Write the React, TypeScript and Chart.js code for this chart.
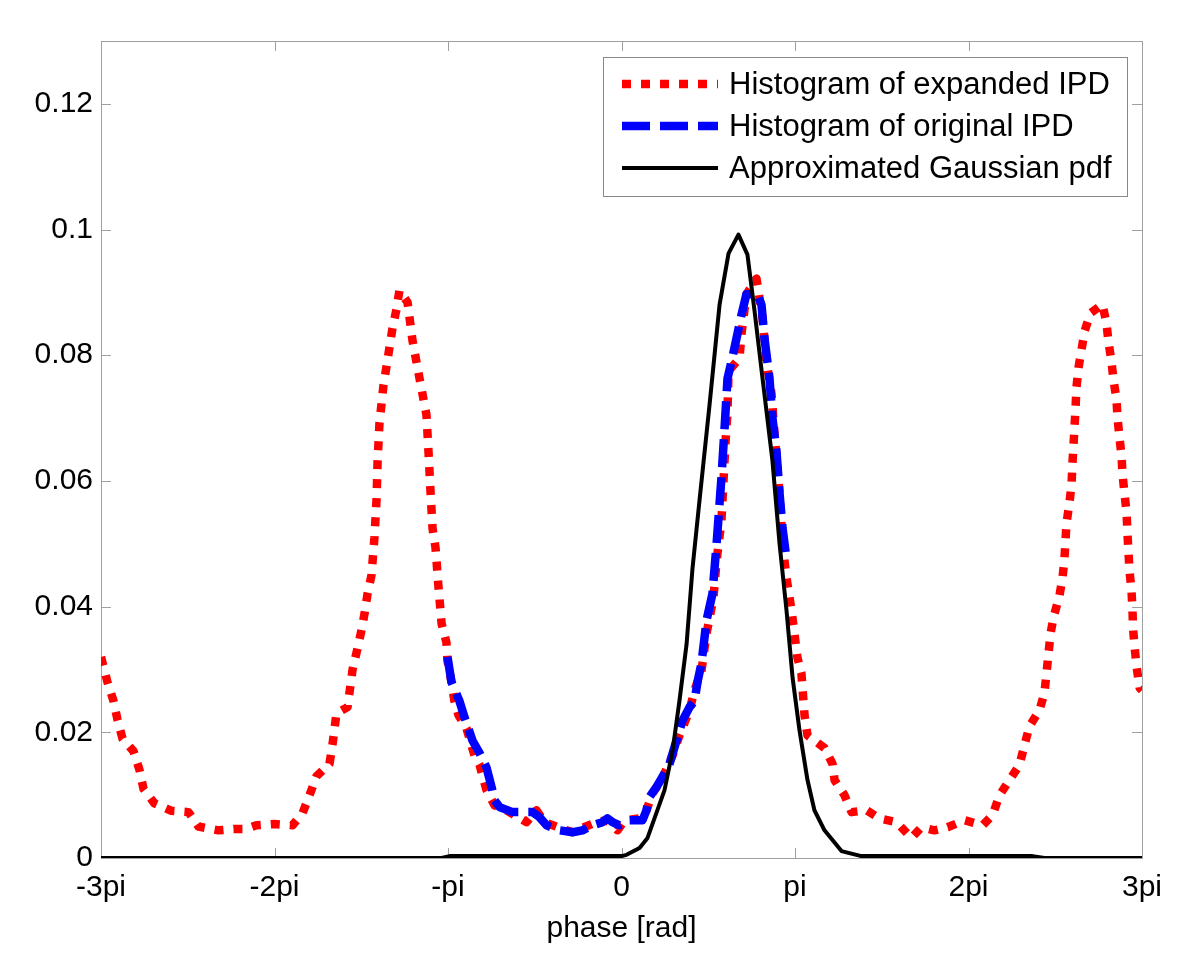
import React, { useEffect, useRef } from "react";
import { Chart, registerables } from "chart.js";

Chart.register(...registerables);

// x values are expressed in multiples of pi
const xTickValues = [-3, -2, -1, 0, 1, 2, 3];
const xTickLabels = ["-3pi", "-2pi", "-pi", "0", "pi", "2pi", "3pi"];
const yTickValues = [0, 0.02, 0.04, 0.06, 0.08, 0.1, 0.12];
const yTickLabels = ["0", "0.02", "0.04", "0.06", "0.08", "0.1", "0.12"];
const xAxisTitle = "phase [rad]";
const seriesNames = [
  "Histogram of expanded IPD",
  "Histogram of original IPD",
  "Approximated Gaussian pdf",
];

const expandedX = [
  -3.0, -2.963, -2.928, -2.905, -2.876, -2.813, -2.778, -2.755, -2.692, -2.594,
  -2.496, -2.438, -2.323, -2.236, -2.167, -2.104, -2.0, -1.896, -1.839, -1.798,
  -1.758, -1.683, -1.666, -1.643, -1.579, -1.55, -1.522, -1.499, -1.481, -1.464,
  -1.441, -1.424, -1.412, -1.406, -1.395, -1.372, -1.354, -1.32, -1.297, -1.28,
  -1.233, -1.205, -1.164, -1.124, -1.112, -1.101, -1.089, -1.072, -1.055, -1.037,
  -1.009, -1.003, -0.98, -0.963, -0.939, -0.893, -0.847, -0.818, -0.778, -0.732,
  -0.663, -0.548, -0.49, -0.444, -0.357, -0.282, -0.225, -0.144, -0.086, -0.023,
  0.017, 0.104, 0.144, 0.179, 0.236, 0.294, 0.334, 0.392, 0.421, 0.461,
  0.49, 0.53, 0.548, 0.576, 0.599, 0.611, 0.617, 0.68, 0.692, 0.72,
  0.778, 0.813, 0.836, 0.865, 0.882, 0.911, 0.928, 0.951, 0.98, 1.014,
  1.037, 1.055, 1.072, 1.17, 1.216, 1.228, 1.285, 1.326, 1.412, 1.487,
  1.585, 1.671, 1.729, 1.804, 1.879, 1.977, 2.081, 2.138, 2.179, 2.236,
  2.294, 2.323, 2.352, 2.409, 2.438, 2.45, 2.461, 2.473, 2.49, 2.524,
  2.542, 2.553, 2.559, 2.565, 2.582, 2.594, 2.599, 2.605, 2.611, 2.617,
  2.622, 2.634, 2.651, 2.669, 2.703, 2.772, 2.795, 2.807, 2.824, 2.836,
  2.853, 2.859, 2.87, 2.882, 2.888, 2.899, 2.911, 2.916, 2.922, 2.928,
  2.939, 2.945, 2.948, 2.957, 2.968, 2.986, 3.0,
];
const expandedY = [
  0.032, 0.028, 0.025, 0.022, 0.019, 0.017, 0.014, 0.011, 0.0087, 0.0075,
  0.0073, 0.005, 0.0044, 0.0046, 0.0046, 0.0052, 0.0054, 0.0052, 0.0071, 0.01,
  0.013, 0.015, 0.018, 0.023, 0.024, 0.03, 0.0333, 0.0362, 0.0389, 0.042,
  0.045, 0.051, 0.057, 0.063, 0.0692, 0.0752, 0.0783, 0.0843, 0.0873, 0.0903,
  0.0884, 0.0824, 0.0763, 0.0705, 0.0644, 0.0584, 0.0524, 0.0494, 0.0432, 0.0373,
  0.0343, 0.0314, 0.028, 0.025, 0.0227, 0.0206, 0.0163, 0.0148, 0.0108, 0.0084,
  0.0076, 0.0057, 0.0076, 0.0057, 0.0048, 0.0041, 0.0048, 0.0057, 0.006, 0.0044,
  0.006, 0.0063, 0.0076, 0.0103, 0.0127, 0.0163, 0.0195, 0.0235, 0.0267, 0.0298,
  0.0357, 0.0414, 0.0473, 0.0537, 0.0659, 0.0711, 0.0775, 0.0795, 0.0835, 0.0897,
  0.0922, 0.0859, 0.079, 0.0738, 0.0675, 0.058, 0.05, 0.0446, 0.0394, 0.0319,
  0.0294, 0.0227, 0.0195, 0.0175, 0.015, 0.0124, 0.01, 0.0073, 0.0076, 0.0063,
  0.0057, 0.0032, 0.0049, 0.0044, 0.0049, 0.006, 0.0052, 0.0068, 0.01, 0.0124,
  0.0148, 0.018, 0.021, 0.0235, 0.0263, 0.0295, 0.0325, 0.0357, 0.0383, 0.0417,
  0.0446, 0.0476, 0.0505, 0.0533, 0.0565, 0.0595, 0.0627, 0.0656, 0.0686, 0.0716,
  0.0748, 0.078, 0.0808, 0.0838, 0.0867, 0.0881, 0.0851, 0.0821, 0.079, 0.076,
  0.073, 0.07, 0.067, 0.064, 0.061, 0.058, 0.055, 0.0518, 0.0487, 0.0457,
  0.0427, 0.0397, 0.0367, 0.0337, 0.0306, 0.0271, 0.0267,
];

const originalX = [
  -1.003, -0.98, -0.934, -0.905, -0.859, -0.818, -0.778, -0.749, -0.732, -0.703,
  -0.628, -0.513, -0.473, -0.432, -0.357, -0.282, -0.225, -0.167, -0.11, -0.081,
  -0.052, -0.012, 0.046, 0.121, 0.144, 0.161, 0.202, 0.236, 0.277, 0.317,
  0.352, 0.392, 0.421, 0.438, 0.461, 0.49, 0.524, 0.548, 0.576, 0.594,
  0.611, 0.634, 0.663, 0.692, 0.72, 0.784, 0.807, 0.824, 0.853, 0.87,
  0.893, 0.911, 0.928, 0.951,
];
const originalY = [
  0.032, 0.028, 0.025, 0.0224, 0.0187, 0.0167, 0.0144, 0.0113, 0.0092, 0.0081,
  0.0073, 0.0073, 0.0065, 0.0052, 0.0044, 0.0041, 0.0044, 0.0052, 0.0057, 0.0063,
  0.0057, 0.0052, 0.006, 0.006, 0.0076, 0.0097, 0.0113, 0.0129, 0.015, 0.0187,
  0.0219, 0.024, 0.025, 0.028, 0.031, 0.0378, 0.042, 0.05, 0.0605, 0.0684,
  0.0763, 0.079, 0.0827, 0.0865, 0.0897, 0.0897, 0.088, 0.0827, 0.0763, 0.07,
  0.0648, 0.058, 0.0525, 0.0476,
];

const gaussX = [
  -3.0, -1.037, -0.991, 0.0, 0.029, 0.104, 0.15, 0.19, 0.248, 0.294,
  0.334, 0.375, 0.409, 0.45, 0.507, 0.565, 0.617, 0.674, 0.726, 0.767,
  0.813, 0.87, 0.911, 0.951, 0.986, 1.026, 1.072, 1.112, 1.17, 1.268,
  1.383, 2.369, 2.438, 3.0,
];
const gaussY = [
  0.0, 0.0, 0.0003, 0.0003, 0.0005, 0.0016, 0.0032, 0.0063, 0.0108, 0.017,
  0.025, 0.034, 0.046, 0.057, 0.072, 0.088, 0.0962, 0.0992, 0.096, 0.087,
  0.0763, 0.0632, 0.05, 0.0394, 0.0287, 0.0203, 0.0124, 0.0076, 0.0044, 0.0011,
  0.0003, 0.0003, 0.0, 0.0,
];

const FONT = "'Liberation Sans', Arial, Helvetica, sans-serif";

const seriesStyles = [
  { color: "#ff0000", width: 8.5, dash: [9, 10] },
  { color: "#0000ff", width: 8.5, dash: [28, 10] },
  { color: "#000000", width: 4, dash: [] as number[] },
];

const zip = (xs: number[], ys: number[]) => xs.map((x, i) => ({ x, y: ys[i] }));

const framePlugin = {
  id: "matlabFrame",
  beforeDatasetsDraw(chart: any) {
    const { ctx, chartArea: a, scales } = chart;
    ctx.save();
    ctx.strokeStyle = "#a0a0a0";
    ctx.lineWidth = 1;
    ctx.strokeRect(a.left + 0.5, a.top + 0.5, a.right - a.left, a.bottom - a.top);
    const tl = 10;
    ctx.beginPath();
    xTickValues.forEach((v) => {
      const px = Math.round(scales.x.getPixelForValue(v)) + 0.5;
      ctx.moveTo(px, a.bottom);
      ctx.lineTo(px, a.bottom - tl);
      ctx.moveTo(px, a.top);
      ctx.lineTo(px, a.top + tl);
    });
    yTickValues.forEach((v) => {
      const py = Math.round(scales.y.getPixelForValue(v)) + 0.5;
      ctx.moveTo(a.left, py);
      ctx.lineTo(a.left + tl, py);
      ctx.moveTo(a.right, py);
      ctx.lineTo(a.right - tl, py);
    });
    ctx.stroke();
    ctx.restore();
  },
  afterDraw(chart: any) {
    const { ctx, chartArea: a } = chart;
    // legend box in the upper right corner of the axes
    const right = a.right - 15;
    const top = a.top + 16;
    const rowH = 42;
    const boxW = 524;
    const boxH = 139;
    const left = right - boxW;
    ctx.save();
    ctx.fillStyle = "#ffffff";
    ctx.fillRect(left, top, boxW, boxH);
    ctx.strokeStyle = "#888888";
    ctx.lineWidth = 1;
    ctx.strokeRect(left + 0.5, top + 0.5, boxW, boxH);
    ctx.font = `31px ${FONT}`;
    ctx.textBaseline = "middle";
    ctx.textAlign = "left";
    seriesNames.forEach((name, i) => {
      const y = top + 27 + i * rowH;
      const s = seriesStyles[i];
      ctx.beginPath();
      ctx.strokeStyle = s.color;
      ctx.lineWidth = s.width;
      ctx.lineCap = "butt";
      ctx.setLineDash(s.dash);
      ctx.moveTo(left + 19, y);
      ctx.lineTo(left + 115, y);
      ctx.stroke();
      ctx.setLineDash([]);
      ctx.fillStyle = "#000000";
      ctx.fillText(name, left + 126, y + 1);
    });
    ctx.restore();
  },
};

export default function App() {
  const canvasRef = useRef<HTMLCanvasElement | null>(null);

  useEffect(() => {
    if (!canvasRef.current) return;
    const seriesData = [
      zip(expandedX, expandedY),
      zip(originalX, originalY),
      zip(gaussX, gaussY),
    ];
    const chart = new Chart(canvasRef.current, {
      type: "line",
      data: {
        datasets: seriesNames.map((name, i) => ({
          label: name,
          data: seriesData[i],
          borderColor: seriesStyles[i].color,
          borderWidth: seriesStyles[i].width,
          borderDash: seriesStyles[i].dash,
          borderCapStyle: "butt",
          borderJoinStyle: "round",
          pointRadius: 0,
          fill: false,
          tension: 0,
          order: 3 - i,
        })),
      },
      options: {
        animation: false,
        responsive: false,
        layout: { padding: { left: 0, right: 58, top: 41, bottom: 0 } },
        plugins: {
          legend: { display: false },
          tooltip: { enabled: false },
        },
        scales: {
          x: {
            type: "linear",
            min: -3,
            max: 3,
            grid: { display: false, drawTicks: false },
            border: { display: false },
            afterBuildTicks: (scale: any) => {
              scale.ticks = xTickValues.map((v) => ({ value: v }));
            },
            afterFit: (scale: any) => {
              scale.height = 108;
            },
            ticks: {
              color: "#000",
              font: { family: FONT, size: 30 },
              padding: 12,
              maxRotation: 0,
              autoSkip: false,
              callback: (v: any) => xTickLabels[xTickValues.indexOf(Number(v))] ?? "",
            },
            title: {
              display: true,
              text: xAxisTitle,
              color: "#000",
              font: { family: FONT, size: 30 },
              padding: { top: 0, bottom: 19 },
            },
          },
          y: {
            type: "linear",
            min: 0,
            max: 0.13,
            grid: { display: false, drawTicks: false },
            border: { display: false },
            afterBuildTicks: (scale: any) => {
              scale.ticks = yTickValues.map((v) => ({ value: v }));
            },
            afterFit: (scale: any) => {
              scale.width = 101;
            },
            ticks: {
              color: "#000",
              font: { family: FONT, size: 30 },
              padding: 8,
              autoSkip: false,
              callback: (v: any) => {
                const idx = yTickValues.findIndex((t) => Math.abs(t - Number(v)) < 1e-9);
                return idx >= 0 ? yTickLabels[idx] : "";
              },
            },
          },
        },
      },
      plugins: [framePlugin],
    });
    return () => chart.destroy();
  }, []);

  return (
    <div style={{ position: "absolute", left: 0, top: 0, width: 1200, height: 966, background: "#fff" }}>
      <canvas ref={canvasRef} width={1200} height={966} />
    </div>
  );
}
